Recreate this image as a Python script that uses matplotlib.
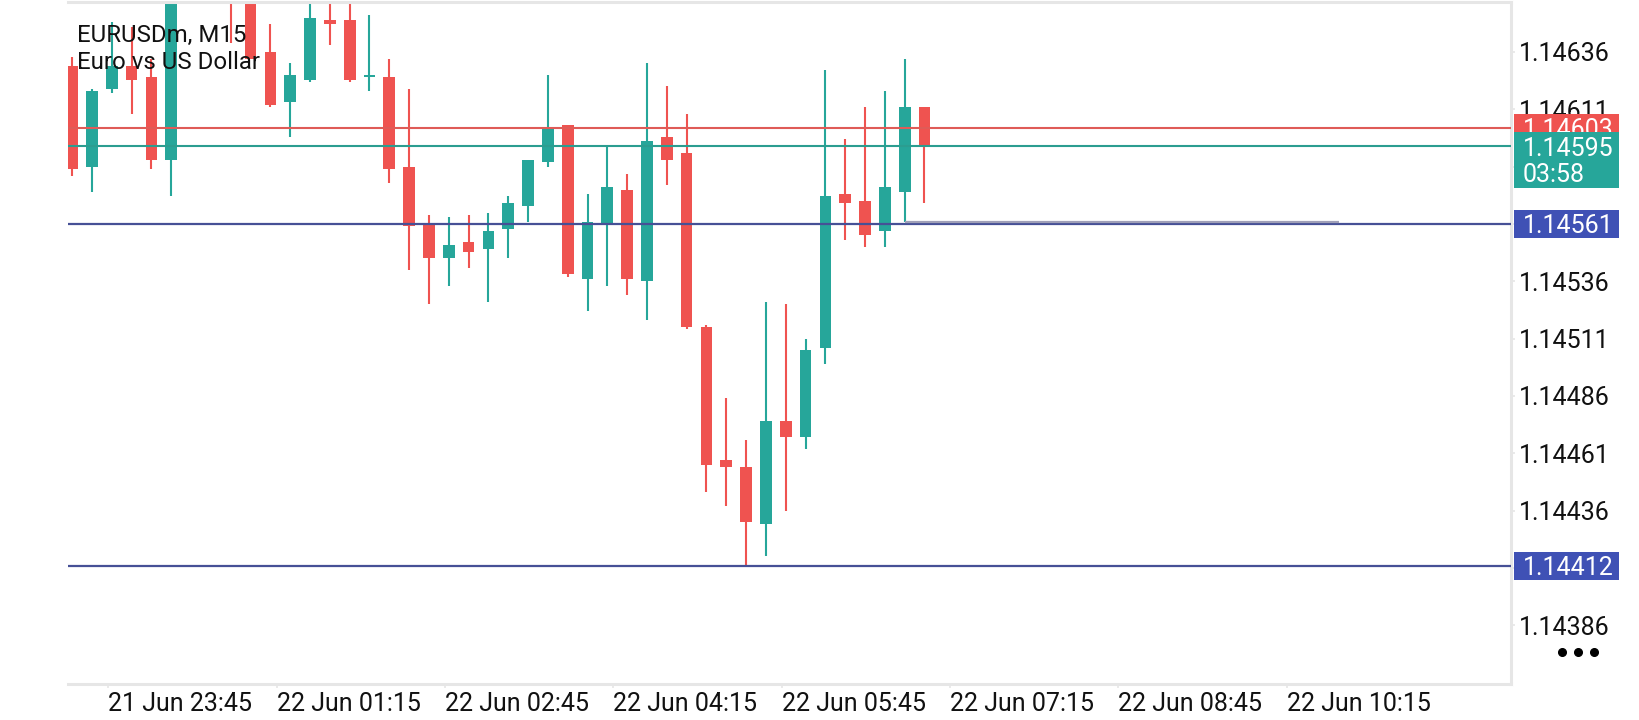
import numpy as np
import matplotlib
matplotlib.use("Agg")
import matplotlib.pyplot as plt
from matplotlib.patches import Rectangle
from matplotlib.transforms import blended_transform_factory

plt.rcParams['font.family'] = ['Roboto', 'DejaVu Sans']

# M15 candles, bar index 0..43 (left to right)
opens = [1.14630, 1.14586, 1.14620, 1.14630, 1.14625, 1.14589, 1.14668, 1.14680,
         1.14671, 1.14662, 1.14636, 1.14614, 1.14624, 1.14650, 1.14650, 1.14625,
         1.14625, 1.14586, 1.14561, 1.14546, 1.14553, 1.14550, 1.14559, 1.14569,
         1.14588, 1.14604, 1.14537, 1.14561, 1.14576, 1.14536, 1.14599, 1.14592,
         1.14516, 1.14458, 1.14455, 1.14430, 1.14475, 1.14468, 1.14507, 1.14574,
         1.14571, 1.14558, 1.14575, 1.14612]
highs = [1.14634, 1.14620, 1.14649, 1.14647, 1.14633, 1.14675, 1.14690, 1.14688,
         1.14676, 1.14665, 1.14648, 1.14631, 1.14662, 1.14661, 1.14660, 1.14652,
         1.14633, 1.14620, 1.14565, 1.14564, 1.14565, 1.14566, 1.14573, 1.14589,
         1.14626, 1.14604, 1.14574, 1.14595, 1.14583, 1.14631, 1.14621, 1.14609,
         1.14517, 1.14485, 1.14467, 1.14527, 1.14526, 1.14511, 1.14628, 1.14598,
         1.14612, 1.14619, 1.14633, 1.14612]
lows = [1.14582, 1.14575, 1.14618, 1.14609, 1.14585, 1.14573, 1.14662, 1.14664,
        1.14640, 1.14633, 1.14612, 1.14599, 1.14623, 1.14639, 1.14623, 1.14619,
        1.14579, 1.14541, 1.14526, 1.14534, 1.14542, 1.14527, 1.14546, 1.14562,
        1.14586, 1.14538, 1.14523, 1.14534, 1.14530, 1.14519, 1.14578, 1.14515,
        1.14444, 1.14438, 1.14412, 1.14416, 1.14436, 1.14463, 1.14500, 1.14554,
        1.14551, 1.14551, 1.14562, 1.14570]
closes = [1.14585, 1.14619, 1.14630, 1.14624, 1.14589, 1.14668, 1.14680, 1.14671,
          1.14662, 1.14633, 1.14613, 1.14626, 1.14651, 1.14648, 1.14624, 1.14626,
          1.14585, 1.14560, 1.14546, 1.14552, 1.14549, 1.14558, 1.14570, 1.14589,
          1.14603, 1.14539, 1.14562, 1.14577, 1.14537, 1.14597, 1.14589, 1.14516,
          1.14456, 1.14455, 1.14431, 1.14475, 1.14468, 1.14506, 1.14573, 1.14570,
          1.14556, 1.14577, 1.14612, 1.14595]

ask_price = 1.14603
bid_price = 1.14595
countdown = "03:58"
level_high = 1.14561
level_low = 1.14412
gray_level = 1.14562
gray_start, gray_end = 42, 63.9

ytick_vals = [1.14386, 1.14411, 1.14436, 1.14461, 1.14486, 1.14511,
              1.14536, 1.14561, 1.14586, 1.14611, 1.14636]
# these grid labels sit fully under the price tags
hidden_ticks = [1.14411, 1.14561, 1.14586]
xtick_pos = [1.82, 10.31, 18.81, 27.30, 35.79, 44.28, 52.78, 61.27]
xtick_labels = ["21 Jun 23:45", "22 Jun 01:15", "22 Jun 02:45", "22 Jun 04:15",
                "22 Jun 05:45", "22 Jun 07:15", "22 Jun 08:45", "22 Jun 10:15"]

UP = '#26a69a'
DOWN = '#ef5350'
BORDER = '#e6e6e6'

fig = plt.figure(figsize=(16.4, 7.2), dpi=100)
fig.patch.set_facecolor('white')
ax = fig.add_axes([68 / 1640, 36 / 720, 1443 / 1640, 682 / 720])

o = np.array(opens)
h = np.array(highs)
l = np.array(lows)
c = np.array(closes)
x = np.arange(len(o))
cols = np.where(c >= o, UP, DOWN)

ax.vlines(x, l, h, colors=cols, linewidth=1.5, zorder=2)
ax.bar(x, np.abs(c - o), bottom=np.minimum(o, c), width=0.59, color=cols,
       linewidth=0, zorder=2)

# price lines
ax.axhline(ask_price, color='#df5b57', linewidth=1.5, zorder=3)
ax.axhline(bid_price, color='#2b9d90', linewidth=1.5, zorder=3)
ax.axhline(level_high, color='#465096', linewidth=1.6, zorder=3)
ax.axhline(level_low, color='#465096', linewidth=1.6, zorder=3)
ax.hlines(gray_level, gray_start, gray_end, color='#a0a0b8', linewidth=1.6, zorder=3)

ax.set_xlim(-0.21, 72.59)
ax.set_ylim(1.143604, 1.146578)

for side in ['top', 'right', 'bottom']:
    ax.spines[side].set_color(BORDER)
    ax.spines[side].set_linewidth(2.2)
ax.spines['left'].set_visible(False)

ax.yaxis.tick_right()
ax.set_yticks(ytick_vals)
ax.set_yticklabels(["" if v in hidden_ticks else f"{v:.5f}" for v in ytick_vals])
ax.tick_params(axis='y', length=3, width=1.2, color=BORDER, pad=2.5,
               labelsize=18, labelcolor='#111111')
ax.set_xticks(xtick_pos)
ax.set_xticklabels(xtick_labels, ha='left')
ax.tick_params(axis='x', length=3, width=1.2, color=BORDER, pad=2.5,
               labelsize=18, labelcolor='#111111')

# header
ax.text(0.006, 0.9418, "EURUSDm, M15", transform=ax.transAxes, fontsize=17.3,
        color='#111111', va='baseline', ha='left', zorder=5)
ax.text(0.006, 0.9013, "Euro vs US Dollar", transform=ax.transAxes, fontsize=17.3,
        color='#111111', va='baseline', ha='left', zorder=5)

# price tags on the right axis
tr = blended_transform_factory(ax.transAxes, ax.transData)
unit = (1.146578 - 1.143604) / 682  # price per pixel
box_h = 27.7 * unit
box_x0, box_w = 1.0023, 0.0723
text_x = 1.0083


def price_tag(price, lines, color, z):
    n = len(lines)
    top = price + box_h / 2
    ax.add_patch(Rectangle((box_x0, top - n * box_h), box_w, n * box_h,
                           transform=tr, facecolor=color, edgecolor='none',
                           clip_on=False, zorder=z))
    for k, s in enumerate(lines):
        ax.text(text_x, price - k * box_h * 0.96, s, transform=tr, color='white',
                fontsize=18, va='center_baseline', ha='left', clip_on=False,
                zorder=z + 0.5)


price_tag(ask_price, [f"{ask_price:.5f}"], DOWN, 6)
price_tag(bid_price, [f"{bid_price:.5f}", countdown], UP, 7)
price_tag(level_high, [f"{level_high:.5f}"], '#3f51b5', 6)
price_tag(level_low, [f"{level_low:.5f}"], '#3f51b5', 6)

# menu dots
dot_x = [(1561.7 - 68) / 1443, (1577.7 - 68) / 1443, (1594 - 68) / 1443]
ax.plot(dot_x, [0.0474] * 3, 'o', color='black', markersize=5.5,
        transform=ax.transAxes, clip_on=False)

fig.savefig('out.png', dpi=100, facecolor='white')
